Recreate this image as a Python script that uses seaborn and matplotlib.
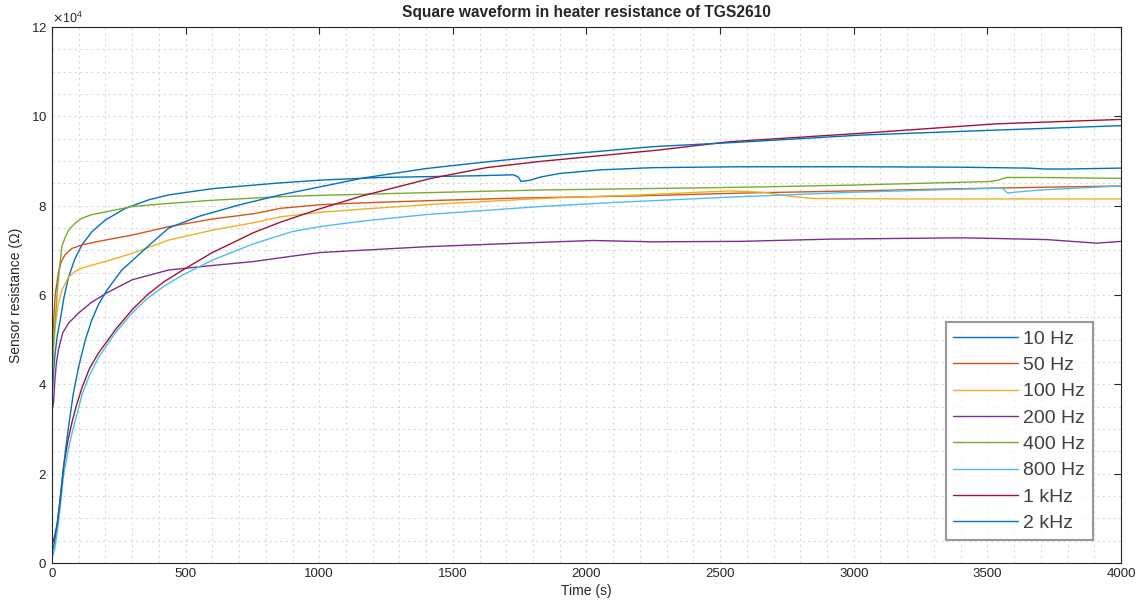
import matplotlib.pyplot as plt
import matplotlib.ticker as mticker
import seaborn as sns
import pandas as pd

sns.set_style("white")
plt.rcParams["font.family"] = ["Liberation Sans", "DejaVu Sans"]

# Series: time (s) and sensor resistance (ohm)
labels = ["10 Hz", "50 Hz", "100 Hz", "200 Hz", "400 Hz", "800 Hz", "1 kHz", "2 kHz"]
colors = ["#0072BD", "#D95319", "#EDB120", "#7E2F8E", "#77AC30", "#4DBEEE", "#A2142F", "#0072BD"]

t_10 = [0, 5, 10, 20, 31, 45, 62, 85, 112, 150, 200, 275, 362, 437, 600, 756, 855, 1003,
        1229, 1600, 1727, 1745, 1755, 1790, 1828, 1900, 2050, 2248, 2574, 3000, 3400, 3653,
        3716, 3800, 4000]
r_10 = [37000, 42000, 46000, 51000, 54400, 59500, 64000, 68000, 71200, 74200, 76800, 79400,
        81300, 82400, 83800, 84600, 85100, 85700, 86300, 86700, 86900, 86400, 85400, 85700,
        86400, 87200, 88000, 88500, 88700, 88700, 88600, 88400, 88200, 88200, 88400]

t_50 = [0, 5, 12, 24, 35, 49, 74, 112, 150, 200, 300, 437, 600, 756, 855, 1003, 1156, 1400,
        1748, 2200, 2574, 3000, 3500, 4000]
r_50 = [45000, 53000, 60000, 65000, 67500, 69000, 70400, 71200, 71700, 72300, 73400, 75300,
        77000, 78200, 79400, 80200, 80600, 81100, 81700, 82200, 82800, 83300, 83900, 84400]

t_100 = [0, 5, 12, 24, 37, 62, 85, 112, 150, 200, 300, 437, 600, 756, 855, 1003, 1156, 1400,
         1828, 2200, 2534, 2660, 2750, 2847, 3200, 3600, 4000]
r_100 = [40000, 47000, 53000, 58000, 61100, 64000, 65200, 66000, 66700, 67500, 69300, 72300,
         74500, 76200, 77500, 78500, 79200, 80200, 81600, 82400, 83300, 83000, 82200, 81600,
         81500, 81500, 81500]

t_200 = [0, 6, 10, 16, 24, 40, 62, 100, 149, 206, 300, 437, 600, 756, 900, 1003, 1156, 1400,
         1748, 2024, 2246, 2574, 2911, 3408, 3722, 3910, 4000]
r_200 = [34000, 36000, 40300, 44500, 47700, 51500, 53700, 56000, 58400, 60500, 63400, 65600,
         66600, 67500, 68700, 69500, 70000, 70800, 71600, 72200, 71900, 72000, 72500, 72800,
         72400, 71600, 72000]

t_400 = [0, 4, 8, 12, 20, 28, 37, 50, 62, 85, 112, 150, 200, 300, 437, 600, 855, 1003, 1400,
         1828, 2200, 2574, 3000, 3509, 3540, 3572, 3700, 4000]
r_400 = [41000, 48000, 51000, 54000, 61000, 66000, 70800, 73000, 74500, 76000, 77200, 78000,
         78600, 79800, 80500, 81200, 82000, 82300, 82900, 83500, 83800, 84100, 84600, 85400,
         85700, 86300, 86300, 86100]

t_800 = [0, 10, 20, 30, 43, 60, 74, 90, 112, 140, 174, 237, 300, 356, 420, 490, 600, 756, 900,
         1003, 1156, 1400, 1828, 2100, 2574, 3000, 3535, 3560, 3575, 3600, 3700, 4000]
r_800 = [1000, 3000, 7000, 12000, 19500, 25000, 28800, 32500, 37600, 42000, 46000, 51500,
         56000, 59200, 62000, 64500, 67800, 71500, 74200, 75300, 76500, 78000, 79800, 80700,
         82000, 83000, 83900, 83800, 82800, 83000, 83500, 84400]

t_1k = [0, 10, 20, 30, 43, 60, 74, 90, 112, 140, 174, 237, 300, 356, 420, 490, 600, 756, 855,
        1003, 1156, 1418, 1625, 1828, 2263, 2534, 3030, 3530, 4000]
r_1k = [4000, 6000, 9000, 14000, 21500, 27500, 31300, 35000, 39200, 43500, 47000, 52200,
        56700, 60000, 63000, 65600, 69500, 74000, 76300, 79300, 82100, 86100, 88500, 89900,
        92400, 94300, 96200, 98300, 99300]

t_2k = [0, 10, 20, 30, 41, 50, 62, 80, 100, 125, 149, 175, 206, 260, 350, 437, 550, 703, 855,
        1003, 1166, 1400, 1627, 1828, 2248, 2574, 3030, 3530, 4000]
r_2k = [2000, 5000, 9000, 14000, 20000, 25000, 30500, 38000, 44000, 50000, 54400, 58000,
        61100, 65500, 70400, 75000, 77600, 80200, 82400, 84200, 86200, 88300, 89800, 91000,
        93200, 94200, 95800, 96900, 97900]

times = [t_10, t_50, t_100, t_200, t_400, t_800, t_1k, t_2k]
values = [r_10, r_50, r_100, r_200, r_400, r_800, r_1k, r_2k]

frames = []
for lab, t, r in zip(labels, times, values):
    frames.append(pd.DataFrame({"time": t, "resistance": r, "freq": lab}))
data = pd.concat(frames, ignore_index=True)

fig, ax = plt.subplots(figsize=(11.45, 6.12), dpi=100)
fig.subplots_adjust(left=0.0454, right=0.979, bottom=0.080, top=0.956)

sns.lineplot(data=data, x="time", y="resistance", hue="freq", hue_order=labels,
             palette=colors, estimator=None, sort=False, linewidth=1.0, ax=ax)

ax.set_xlim(0, 4000)
ax.set_ylim(0, 120000)
ax.xaxis.set_major_locator(mticker.MultipleLocator(500))
ax.xaxis.set_minor_locator(mticker.MultipleLocator(100))
ax.yaxis.set_major_locator(mticker.MultipleLocator(20000))
ax.yaxis.set_minor_locator(mticker.MultipleLocator(5000))
ax.ticklabel_format(axis="y", style="sci", scilimits=(4, 4), useMathText=True)
ax.yaxis.get_offset_text().set_fontsize(9)
ax.yaxis.get_offset_text().set_color("#262626")

ax.grid(which="both", color="#d9d9d9", linestyle=(0, (2, 3)), linewidth=0.8)
ax.set_axisbelow(True)
ax.tick_params(which="major", direction="in", length=5, top=True, right=True,
               labelsize=9.5, colors="#262626", width=0.8)
ax.tick_params(which="minor", length=0, top=True, right=True)
for sp in ax.spines.values():
    sp.set_color("#262626")
    sp.set_linewidth(0.8)

ax.set_title("Square waveform in heater resistance of TGS2610", fontsize=11.2,
             fontweight="bold", pad=7)
ax.set_xlabel("Time (s)", fontsize=10, color="#262626", labelpad=3)
ax.set_ylabel("Sensor resistance (\u03a9)", fontsize=10, color="#262626", labelpad=6)

leg = ax.legend(loc="lower right", bbox_to_anchor=(0.974, 0.043), fontsize=14,
                frameon=True, fancybox=False, handlelength=3.3, labelspacing=0.45,
                borderpad=0.4, handletextpad=0.3, borderaxespad=0)
leg.get_frame().set_edgecolor("#808080")
leg.get_frame().set_linewidth(1.5)
for txt in leg.get_texts():
    txt.set_color("#404040")

plt.savefig("out.png", dpi=100)
